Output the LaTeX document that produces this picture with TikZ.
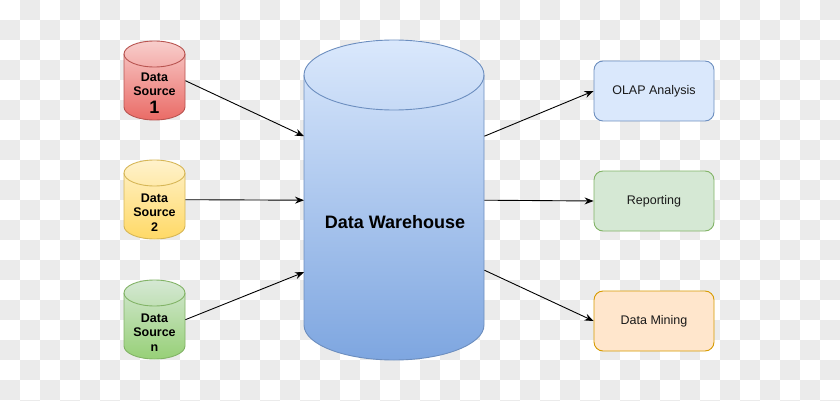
\documentclass[tikz,border=0pt]{standalone}
\usepackage{fontspec}
\setmainfont{Liberation Sans}
\usetikzlibrary{calc,arrows.meta}
\definecolor{checker}{RGB}{235,235,235}
\definecolor{blueT}{HTML}{DAE8FC}\definecolor{blueB}{HTML}{7EA6E0}\definecolor{blueS}{HTML}{6C8EBF}
\definecolor{redT}{HTML}{F8CECC}\definecolor{redB}{HTML}{EA6B66}\definecolor{redS}{HTML}{B85450}
\definecolor{yelT}{HTML}{FFF2CC}\definecolor{yelB}{HTML}{FFD966}\definecolor{yelS}{HTML}{D6B656}
\definecolor{grnT}{HTML}{D5E8D4}\definecolor{grnB}{HTML}{97D077}\definecolor{grnS}{HTML}{82B366}
\definecolor{orgF}{HTML}{FFE6CC}\definecolor{orgS}{HTML}{D79B00}
\newcommand\dbcyl[9]{%
  \path[draw=#9, line width=0.9pt, top color=#7, bottom color=#8]
    (#2,{#3+#6}) -- (#2,{#3+#5-#6})
    arc[start angle=180,end angle=0,x radius={#4/2},y radius=#6]
    -- ({#2+#4},{#3+#6})
    arc[start angle=0,end angle=-180,x radius={#4/2},y radius=#6] -- cycle;
  \draw[#9, line width=0.9pt] (#2,{#3+#6}) arc[start angle=180,end angle=0,x radius={#4/2},y radius=#6];
  \node[inner sep=0pt, minimum width=#4, minimum height=#5, anchor=north west] (#1) at (#2,#3) {};
}
\tikzset{
  srctext/.style={font=\bfseries\fontsize{12.5}{14.5}\selectfont, align=center, text=black, inner sep=0pt},
  outbox/.style={rounded corners=9pt, minimum width=120pt, minimum height=60pt, line width=0.9pt,
    font=\fontsize{12.5}{14}\selectfont, text=black!90},
  arr/.style={-{Stealth[length=9pt,width=7pt,inset=3pt]}, line width=0.9pt, black}
}
\begin{document}
\begin{tikzpicture}[x=1pt,y=-1pt]
\useasboundingbox (0,0) rectangle (840,401);
\begin{scope}
\clip (0,0) rectangle (840,401);
\fill[white] (0,0) rectangle (840,401);
\foreach \i in {0,...,41}{\foreach \j in {0,...,20}{%
  \pgfmathparse{int(mod(\i+\j,2))}%
  \ifnum\pgfmathresult=1 \fill[checker] (\i*20,\j*20) rectangle ++(20,20);\fi}}
\end{scope}

% sources
\dbcyl{s1}{124}{41}{61}{79}{13}{redT}{redB}{redS}
\dbcyl{s2}{124}{160}{61}{79}{13}{yelT}{yelB}{yelS}
\dbcyl{sn}{124}{280}{61}{79}{13}{grnT}{grnB}{grnS}
\node[srctext] (t1) at (154.5,93) {Data\\Source\\[3.5pt]{\fontsize{18}{18}\selectfont 1}};
\node[srctext] (t2) at (154.5,212.5) {Data\\Source\\2};
\node[srctext] (tn) at (154.5,332.5) {Data\\Source\\n};

% warehouse
\dbcyl{dw}{304}{40}{180}{320}{35}{blueT}{blueB}{blueS}
\node[font=\bfseries\fontsize{18}{20}\selectfont, text=black, inner sep=0pt] (dwt) at (395,222) {Data Warehouse};

% outputs
\node[outbox, fill=blueT, draw=blueS] (olap) at (654,91) {OLAP Analysis};
\node[outbox, fill=grnT, draw=grnS] (rep) at (654,201) {Reporting};
\node[outbox, fill=orgF, draw=orgS] (dm) at (654,321) {Data Mining};

% connectors
\draw[arr] (s1.east) -- ($(dw.west)+(0,-64)$);
\draw[arr] (s2.east) -- (dw.west);
\draw[arr] (sn.east) -- ($(dw.west)+(0,72)$);
\draw[arr] ($(dw.east)+(0,-64)$) -- (olap.west);
\draw[arr] (dw.east) -- (rep.west);
\draw[arr] ($(dw.east)+(0,70)$) -- (dm.west);
\end{tikzpicture}
\end{document}
